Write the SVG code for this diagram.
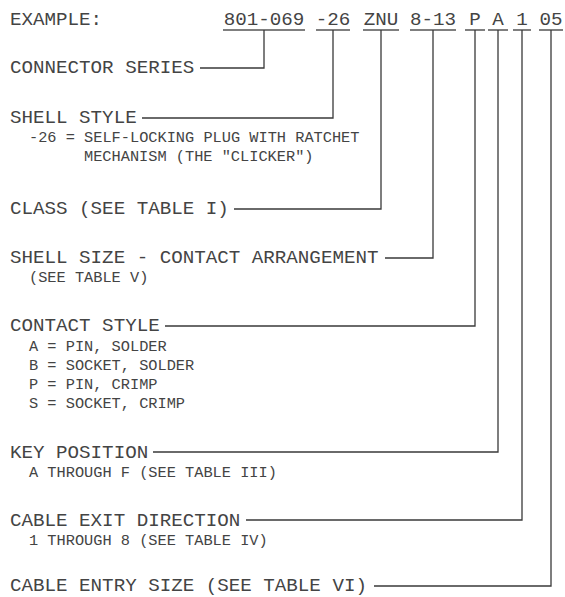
<svg xmlns="http://www.w3.org/2000/svg" width="565" height="597" viewBox="0 0 565 597">
<style>
text{font-family:"Liberation Mono","DejaVu Sans Mono",monospace;fill:#444}
.big{font-size:19.2px}
.sm{font-size:15.3px}
.code{font-size:19.2px;text-anchor:middle}
.ul{stroke:#555;stroke-width:1.5;fill:none}
.con{stroke:#3a3a3a;stroke-width:1.3;fill:none}
</style>
<rect width="565" height="597" fill="#fff"/>
<g id="example">
<text class="big" x="10" y="25">EXAMPLE:</text>
<text class="code" x="264" y="25">801-069</text>
<text class="code" x="333" y="25">-26</text>
<text class="code" x="381" y="25">ZNU</text>
<text class="code" x="433" y="25">8-13</text>
<text class="code" x="475" y="25">P</text>
<text class="code" x="498" y="25">A</text>
<text class="code" x="522" y="25">1</text>
<text class="code" x="551" y="25">05</text>
<path class="ul" d="M223 30H305M316 30H350M363 30H399M410 30H456M465 30H485M488 30H508M513 30H531M539 30H563"/>
</g>
<g id="connector-series"><text class="big" x="10" y="73">CONNECTOR SERIES</text></g>
<g id="shell-style">
<text class="big" x="10" y="123">SHELL STYLE</text>
<text class="sm" x="29" y="142">-26 = SELF-LOCKING PLUG WITH RATCHET</text>
<text class="sm" x="84" y="161">MECHANISM (THE "CLICKER")</text>
</g>
<g id="class"><text class="big" x="10" y="214">CLASS (SEE TABLE I)</text></g>
<g id="shell-size">
<text class="big" x="10" y="263">SHELL SIZE - CONTACT ARRANGEMENT</text>
<text class="sm" x="29" y="282">(SEE TABLE V)</text>
</g>
<g id="contact-style">
<text class="big" x="10" y="331">CONTACT STYLE</text>
<text class="sm" x="29" y="351">A = PIN, SOLDER</text>
<text class="sm" x="29" y="370">B = SOCKET, SOLDER</text>
<text class="sm" x="29" y="389">P = PIN, CRIMP</text>
<text class="sm" x="29" y="408">S = SOCKET, CRIMP</text>
</g>
<g id="key-position">
<text class="big" x="10" y="458">KEY POSITION</text>
<text class="sm" x="29" y="477">A THROUGH F (SEE TABLE III)</text>
</g>
<g id="cable-exit">
<text class="big" x="10" y="526">CABLE EXIT DIRECTION</text>
<text class="sm" x="29" y="545">1 THROUGH 8 (SEE TABLE IV)</text>
</g>
<g id="cable-entry"><text class="big" x="10" y="591">CABLE ENTRY SIZE (SEE TABLE VI)</text></g>
<g id="connectors">
<path class="con" d="M200 68H264V30"/>
<path class="con" d="M142 118H333V30"/>
<path class="con" d="M234 209H381V30"/>
<path class="con" d="M385 258H433V30"/>
<path class="con" d="M165 326H475V30"/>
<path class="con" d="M153 452H498V30"/>
<path class="con" d="M246 520H522V30"/>
<path class="con" d="M374 586H551V30"/>
</g>
</svg>
